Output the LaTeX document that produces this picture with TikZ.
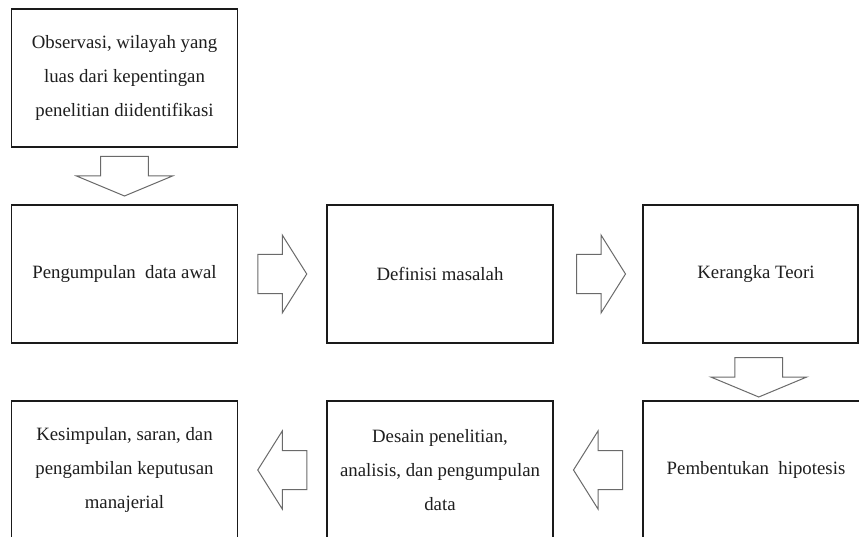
\documentclass[tikz,border=0pt]{standalone}
\usepackage{fontspec}
\setmainfont{Liberation Serif}
\usetikzlibrary{calc}
\definecolor{boxline}{HTML}{1A1A1A}
\definecolor{arrowgray}{HTML}{6A6A6A}
\definecolor{txt}{HTML}{1E1E1E}
\tikzset{
  box/.style={draw=boxline, line width=1.1pt, minimum width=226pt, minimum height=138pt,
    inner sep=0pt, align=center, text=txt, font=\fontsize{18.8}{34}\selectfont},
  arrowline/.style={draw=arrowgray, line width=1pt, line join=miter},
  blockh/.pic={\draw[arrowline] (-24.5,-19.5) -- (0,-19.5) -- (0,-39) -- (24.5,0) -- (0,39) -- (0,19.5) -- (-24.5,19.5) -- cycle;},
  blockv/.pic={\draw[arrowline] (-23.8,-19.5) -- (-23.8,0) -- (-48,0) -- (0,20) -- (48,0) -- (23.8,0) -- (23.8,-19.5) -- cycle;}
}
\begin{document}
\begin{tikzpicture}[x=1pt,y=-1pt]
\clip (0,0) rectangle (859,537);
\fill[white] (0,0) rectangle (859,537);
% row 1
\node[box] (obs) at (124.5,78) {Observasi, wilayah yang\\luas dari kepentingan\\penelitian diidentifikasi};
% row 2
\node[box] (awal) at (124.5,274) {Pengumpulan\ \ data awal};
\node[box] (def) at (440,274) {Definisi masalah};
\node[box, minimum width=215pt] (teori) at (750.5,274) {\hspace*{11pt}Kerangka Teori};
% row 3
\node[box] (kes) at (124.5,470) {Kesimpulan,\ saran,\ dan\\pengambilan keputusan\\manajerial};
\node[box] (desain) at (440,470) {Desain penelitian,\\analisis, dan pengumpulan\\data};
\node[box] (hip) at (756,470) {Pembentukan\ \ hipotesis};
% block arrows between boxes
\pic at ($(obs.south)!0.5!(awal.north)$) {blockv};
\pic at ($(awal.east)!0.5!(def.west)$) {blockh};
\pic at ($(def.east)!0.5!(teori.west)+(3,0)$) {blockh};
\pic at ($(teori.south)!0.5!(hip.north)+(5.5,5)$) {blockv};
\pic[rotate=180] at ($(desain.west)!0.5!(kes.east)$) {blockh};
\pic[rotate=180] at ($(hip.west)!0.5!(desain.east)$) {blockh};
\end{tikzpicture}
\end{document}
